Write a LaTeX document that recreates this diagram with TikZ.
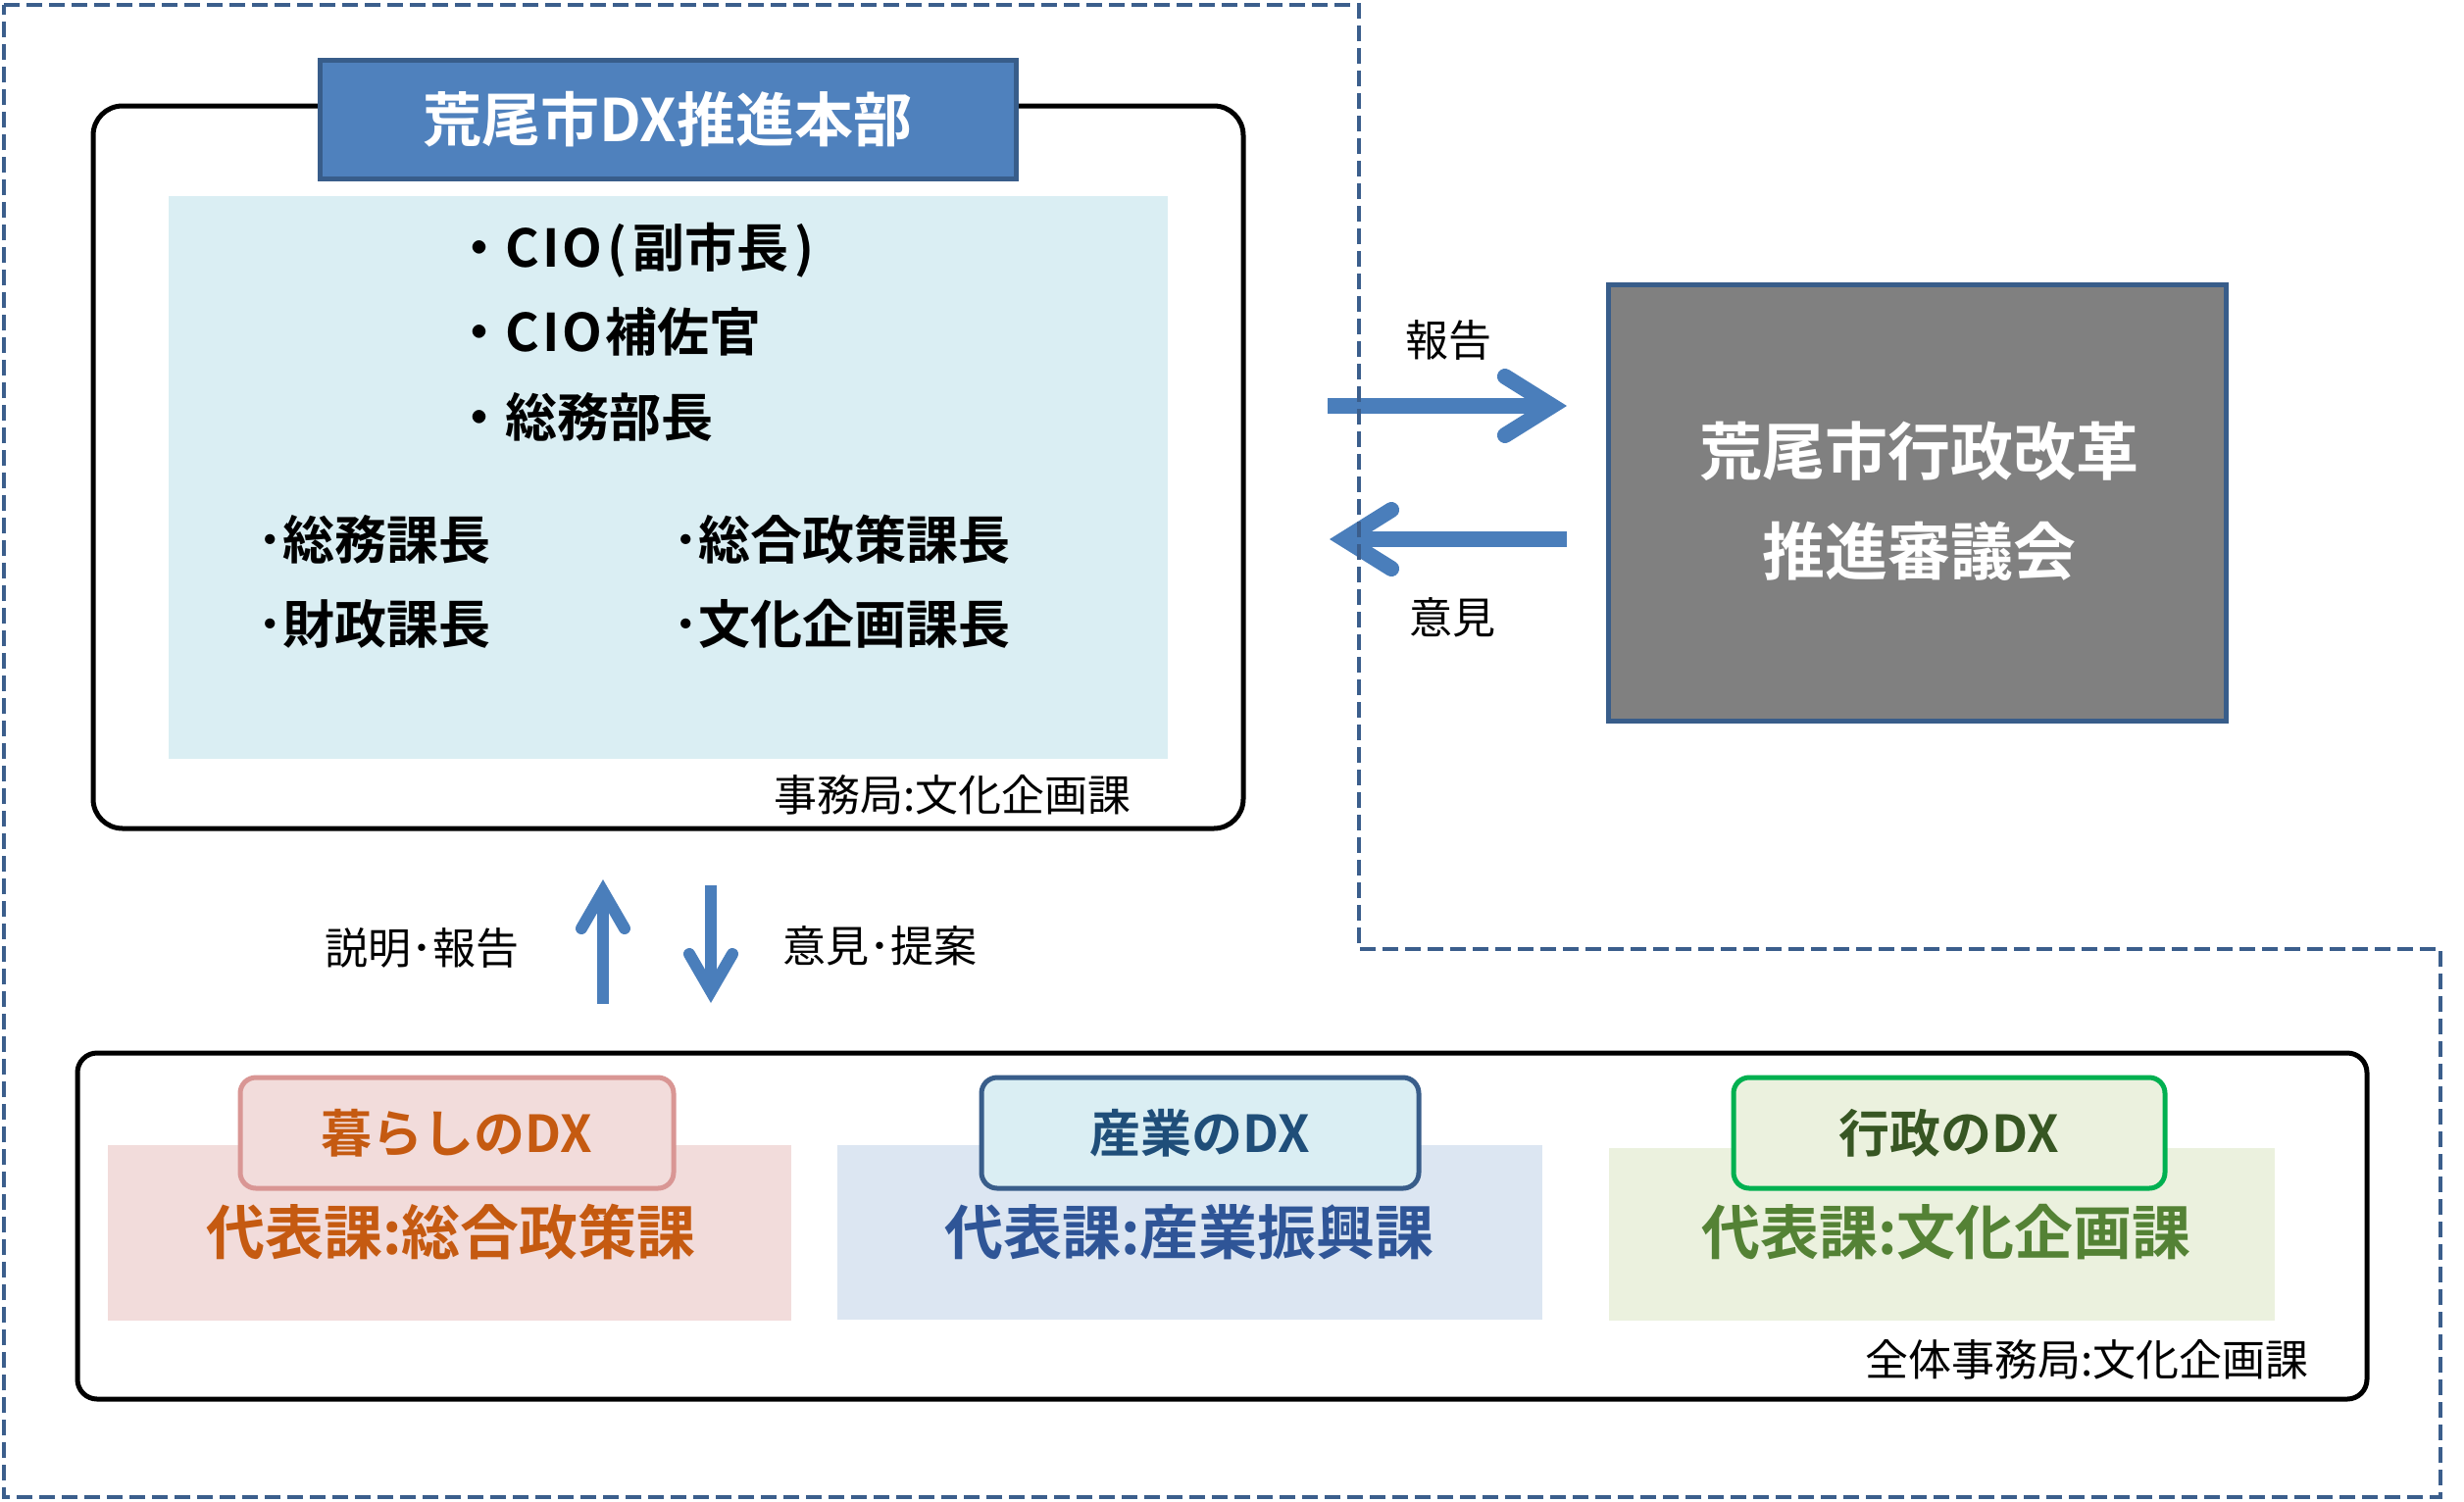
\documentclass[tikz,border=0pt]{standalone}
\usepackage{fontspec}
\setmainfont{Noto Sans CJK JP}[BoldFont={Noto Sans CJK JP Bold}]
\usetikzlibrary{arrows.meta}
\definecolor{dashcol}{HTML}{3B5E8C}
\definecolor{hdrblue}{HTML}{4F81BD}
\definecolor{hdrborder}{HTML}{385D8A}
\definecolor{panelblue}{HTML}{DAEEF3}
\definecolor{councilgray}{HTML}{808080}
\definecolor{arrowblue}{HTML}{4A7EBB}
\definecolor{pinkfill}{HTML}{F2DCDB}
\definecolor{pinkline}{HTML}{D99694}
\definecolor{orangetext}{HTML}{C55A11}
\definecolor{bluefill}{HTML}{DCE6F2}
\definecolor{cyanfill}{HTML}{DAEEF3}
\definecolor{navytext}{HTML}{1F4E79}
\definecolor{bluetext}{HTML}{2F5597}
\definecolor{greenfill}{HTML}{EBF1DE}
\definecolor{greenline}{HTML}{00B050}
\definecolor{dkgreentext}{HTML}{375623}
\definecolor{greentext}{HTML}{548235}
\tikzset{
  dashline/.style={draw=dashcol, line width=2pt, dash pattern=on 8pt off 3.5pt},
  blackbox/.style={draw=black, line width=2.5pt, inner sep=0pt},
  panel/.style={inner sep=0pt, draw=none},
  grphdr/.style={line width=2.5pt, rounded corners=8pt, inner sep=0pt, minimum width=221pt, minimum height=56.5pt, font=\fontsize{26pt}{30pt}\selectfont\bfseries},
  reptext/.style={inner sep=0pt, font=\fontsize{30pt}{34pt}\selectfont\bfseries},
  itemtext/.style={inner sep=0pt, font=\fontsize{26.5pt}{30pt}\selectfont\bfseries},
  smalltext/.style={inner sep=0pt, font=\fontsize{22pt}{26pt}\selectfont},
  harrow/.style={draw=arrowblue, line width=8pt, -{Straight Barb[length=24pt, width=30pt, line cap=round, line join=miter]}},
  varrow/.style={draw=arrowblue, line width=6pt, -{Straight Barb[length=19pt, width=22pt, line cap=round, line join=miter]}},
}
\newcommand{\ltr}[1]{#1\kern1.5pt}
\begin{document}
\begin{tikzpicture}[x=0.5pt, y=-0.5pt]
\useasboundingbox (0,0) rectangle (2513,1532);
\fill[white] (0,0) rectangle (2513,1532);

% DX headquarters
\node[blackbox, rounded corners=15pt, minimum width=586.5pt, minimum height=368.5pt] (hq) at (681.5,476.5) {};
\node[panel, fill=panelblue, minimum width=509.5pt, minimum height=287pt] (hqpanel) at (681.5,487) {};
\node[fill=hdrblue, draw=hdrborder, line width=2.5pt, minimum width=355pt, minimum height=60.5pt, inner sep=0pt, text=white, font=\fontsize{30pt}{34pt}\selectfont\bfseries] (hqtitle) at (681,121.5) {荒尾市DX推進本部};

\node[itemtext, anchor=base west] (i1) at (462,272) {・\ltr{C}\ltr{I}\ltr{O}\kern1pt(\kern3pt副市長\kern3pt)};
\node[itemtext, anchor=base west] (i2) at (462,358) {・\ltr{C}\ltr{I}\ltr{O}補佐官};
\node[itemtext, anchor=base west] (i3) at (462,445) {・総務部長};
\node[itemtext, anchor=base west] (i4) at (262,570) {･総務課長};
\node[itemtext, anchor=base west] (i5) at (262,656) {･財政課長};
\node[itemtext, anchor=base west] (i6) at (686,570) {･総合政策課長};
\node[itemtext, anchor=base west] (i7) at (686,656) {･文化企画課長};
\node[smalltext, anchor=base east] (hqsec) at (1154,827) {事務局:文化企画課};

% council
\node[fill=councilgray, draw=hdrborder, line width=2.5pt, minimum width=315pt, minimum height=222.5pt, inner sep=0pt] (council) at (1955,512.5) {};
\node[inner sep=0pt, text=white, font=\fontsize{32pt}{36pt}\selectfont\bfseries] (c1) at (1957,460) {荒尾市行政改革};
\node[inner sep=0pt, text=white, font=\fontsize{32pt}{36pt}\selectfont\bfseries] (c2) at (1957,562) {推進審議会};

% horizontal arrows
\coordinate (r1) at (1354,414);
\coordinate (r2) at (1598,414);
\draw[harrow] (r1) -- (r2);
\coordinate (l1) at (1598,550);
\coordinate (l2) at (1356,550);
\draw[harrow] (l1) -- (l2);
\node[smalltext, anchor=base] (lblrep) at (1477,363) {報告};
\node[smalltext, anchor=base] (lblop) at (1481,646) {意見};

% vertical arrows
\coordinate (u1) at (615,1024);
\coordinate (u2) at (615,897);
\draw[varrow] (u1) -- (u2);
\coordinate (d1) at (725,903);
\coordinate (d2) at (725,1023);
\draw[varrow] (d1) -- (d2);
\node[smalltext, anchor=base] (lblexp) at (430,983) {説明･報告};
\node[smalltext, anchor=base] (lblprop) at (897,981) {意見･提案};

% groups box
\node[blackbox, rounded corners=10pt, minimum width=1167.5pt, minimum height=176.5pt] (groups) at (1246.5,1250.5) {};

\node[panel, fill=pinkfill, minimum width=348.5pt, minimum height=89.5pt] (ppanel) at (458.5,1257.5) {};
\node[panel, fill=bluefill, minimum width=359.5pt, minimum height=89pt] (bpanel) at (1213.5,1257) {};
\node[panel, fill=greenfill, minimum width=339.5pt, minimum height=88pt] (gpanel) at (1980.5,1259) {};

\node[grphdr, fill=pinkfill, draw=pinkline, text=orangetext] (phdr) at (466,1155.5) {暮らしのDX};
\node[grphdr, fill=cyanfill, draw=hdrborder, text=navytext, minimum width=223pt] (bhdr) at (1224,1155.5) {産業のDX};
\node[grphdr, fill=greenfill, draw=greenline, text=dkgreentext, minimum width=220pt] (ghdr) at (1988,1155.5) {行政のDX};

\node[reptext, text=orangetext] (prep) at (460,1257) {代表課:総合政策課};
\node[reptext, text=bluetext] (brep) at (1213,1257) {代表課:産業振興課};
\node[reptext, text=greentext] (grep) at (1985,1257) {代表課:文化企画課};

\node[smalltext, anchor=base east] (allsec) at (2355,1403) {全体事務局:文化企画課};

% dashed outline (drawn on top, as in the reference)
\draw[dashline] (4,5) -- (1386,5) -- (1386,968) -- (2489,968) -- (2489,1527) -- (4,1527) -- cycle;
\end{tikzpicture}
\end{document}
